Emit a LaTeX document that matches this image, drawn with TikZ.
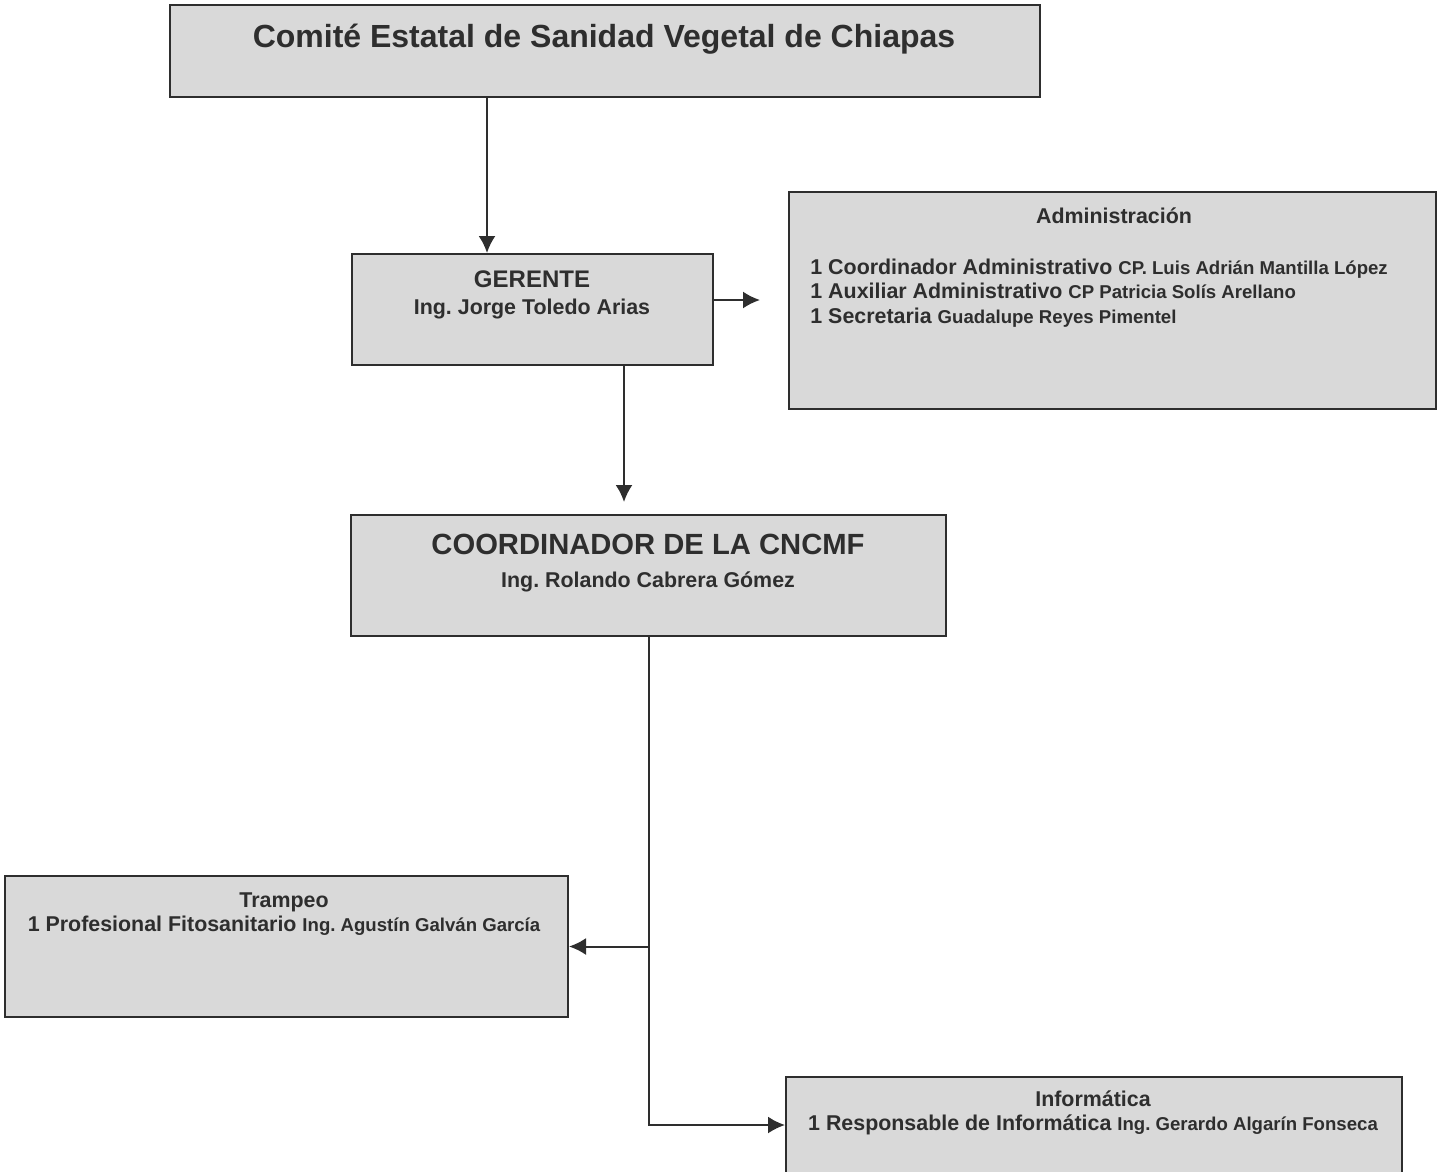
\documentclass[tikz,border=0pt]{standalone}
\usepackage{fontspec}
\setmainfont{Liberation Sans}
\usetikzlibrary{arrows.meta}
\definecolor{boxfill}{HTML}{D9D9D9}
\definecolor{ink}{HTML}{2E2E2E}
\newcommand{\nm}[1]{{\fontsize{9.3}{12}\selectfont #1}}
\frenchspacing

\begin{document}
\begin{tikzpicture}[x=0.5pt,y=-0.5pt]

\tikzset{box/.style = {draw=ink, fill=boxfill, line width=1pt, inner sep=0pt}}
\tikzset{txt/.style = {inner sep=0pt, text=ink, align=center, font=\bfseries\fontsize{10.7}{12.25}\selectfont}}
\tikzset{edge/.style = {draw=ink, line width=1pt, -{Latex[length=8.5pt,width=8.5pt]}}}
\useasboundingbox (0,0) rectangle (1445,1172);
%boxes
\node[box, minimum width=435pt, minimum height=46pt] (cesv) at (605,51) {};
\node[box, minimum width=180.5pt, minimum height=55.5pt] (ger) at (532.5,309.5) {};
\node[box, minimum width=323.5pt, minimum height=108.5pt] (admin) at (1112.5,300.5) {};
\node[box, minimum width=297.5pt, minimum height=60.5pt] (coord) at (648.5,575.5) {};
\node[box, minimum width=281.5pt, minimum height=70.5pt] (tramp) at (286.5,946.5) {};
\node[box, minimum width=308pt, minimum height=48pt] (info) at (1094,1125) {};
%texts
\node[txt, font=\bfseries\fontsize{16}{18}\selectfont] (cesvtxt) at (604,39) {Comité Estatal de Sanidad Vegetal de Chiapas};
\node[txt] (gertxt) at (532,295) {{\fontsize{12}{14}\selectfont GERENTE}\\[1.25pt] Ing. Jorge Toledo Arias};
\node[txt] (admintitle) at (1114,216) {Administración};
\node[txt, anchor=west, align=left] (admintxt) at (810,293) {1 Coordinador Administrativo \nm{CP. Luis Adrián Mantilla López}\\
  1 Auxiliar Administrativo \nm{CP Patricia Solís Arellano}\\
  1 Secretaria \nm{Guadalupe Reyes Pimentel}};
\node[txt] (coordtxt) at (648,563) {{\fontsize{14.6}{16}\selectfont COORDINADOR DE LA CNCMF}\\[4pt] Ing. Rolando Cabrera Gómez};
\node[txt] (tramptxt) at (284,914) {Trampeo\\ 1 Profesional Fitosanitario \nm{Ing. Agustín Galván García}};
\node[txt] (infotxt) at (1093,1113) {Informática\\ 1 Responsable de Informática \nm{Ing. Gerardo Algarín Fonseca}};
%edges
\coordinate (k1) at (487,0);
\coordinate (ga) at (760,300);
\coordinate (gc) at (624,502);
\draw[edge] (k1 |- cesv.south) -- (k1 |- ger.north);
\draw[edge] (ger.east |- ga) -- (ga);
\draw[edge] (gc |- ger.south) -- (gc);
\draw[edge] (coord.south |- tramp.east) -- (tramp.east);
\draw[edge] (coord.south) |- (info.west);

\end{tikzpicture}
\end{document}
